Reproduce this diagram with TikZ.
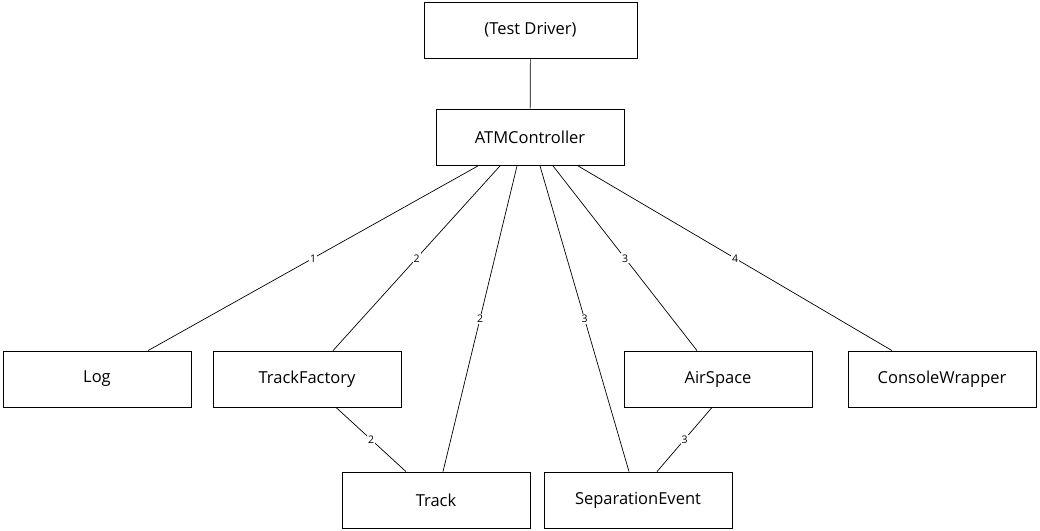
\documentclass[tikz,border=0pt]{standalone}
\usepackage{fontspec}
\setmainfont{Open Sans}
\usepackage{tikz}
\usetikzlibrary{arrows.meta}

\tikzset{
  box/.style={draw, line width=0.8pt, minimum width=188pt, minimum height=56pt, font=\fontsize{16.5}{20}\selectfont},
  lnk/.style={line width=0.7pt},
  num/.style={fill=white, inner sep=1pt, font=\fontsize{10.5}{12}\selectfont}
}

\begin{document}
\begin{tikzpicture}[x=1pt, y=-1pt]
				\useasboundingbox (0,0) rectangle (1040,530);
				\node[box, minimum width=213pt] (driver) at (530.5,30) {(Test Driver)};
				\node[box] (atm) at (530,137.5) {ATMController};
				\node[box] (log) at (97,379) {Log};
				\node[box] (trackfactory) at (307,379) {TrackFactory};
				\node[box] (airspace) at (718,379) {AirSpace};
				\node[box] (consolewrapper) at (942,379) {ConsoleWrapper};
				\node[box] (track) at (436,500) {Track};
				\node[box] (sepevent) at (638,500) {SeparationEvent};
				\draw[lnk] (driver) -- (atm);
				\draw[lnk] ([xshift=-52pt]atm.south) -- node[num] {1} ([xshift=51pt]log.north);
				\draw[lnk] ([xshift=-30pt]atm.south) -- node[num] {2} ([xshift=26pt]trackfactory.north);
				\draw[lnk] ([xshift=-13pt]atm.south) -- node[num] {2} ([xshift=7pt]track.north);
				\draw[lnk] ([xshift=10pt]atm.south) -- node[num] {3} ([xshift=-9pt]sepevent.north);
				\draw[lnk] ([xshift=23pt]atm.south) -- node[num] {3} ([xshift=-21pt]airspace.north);
				\draw[lnk] ([xshift=48pt]atm.south) -- node[num] {4} ([xshift=-50pt]consolewrapper.north);
				\draw[lnk] ([xshift=29pt]trackfactory.south) -- node[num] {2} ([xshift=-30pt]track.north);
				\draw[lnk] ([xshift=-6pt]airspace.south) -- node[num] {3} ([xshift=19pt]sepevent.north);
\end{tikzpicture}
\end{document}
